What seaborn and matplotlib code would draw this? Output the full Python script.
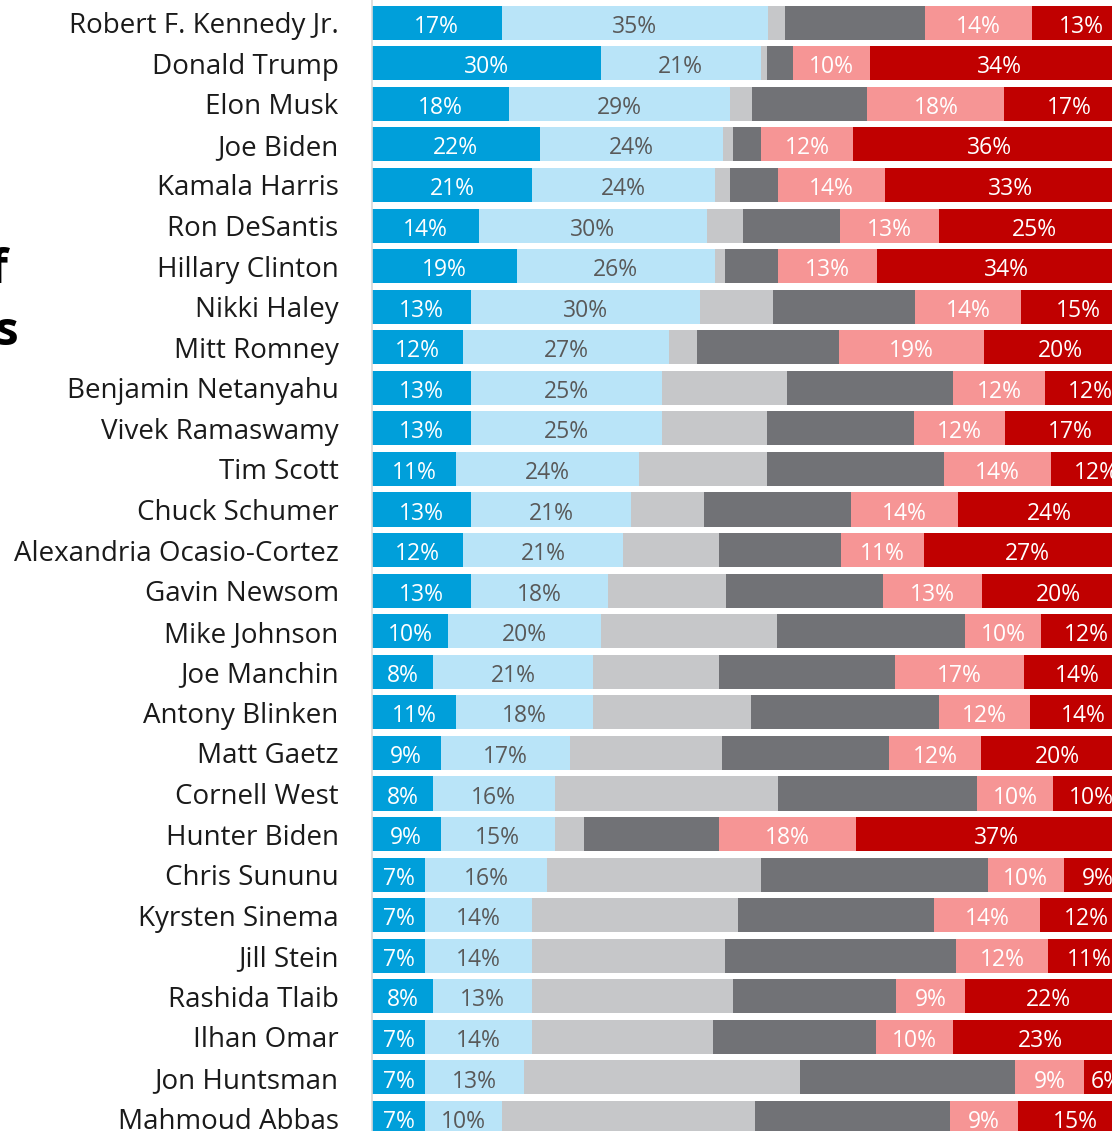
import numpy as np
import pandas as pd
import seaborn as sns
import matplotlib.pyplot as plt

# Names, top to bottom
names = [
    'Robert F. Kennedy Jr.', 'Donald Trump', 'Elon Musk', 'Joe Biden', 'Kamala Harris',
    'Ron DeSantis', 'Hillary Clinton', 'Nikki Haley', 'Mitt Romney', 'Benjamin Netanyahu',
    'Vivek Ramaswamy', 'Tim Scott', 'Chuck Schumer', 'Alexandria Ocasio-Cortez', 'Gavin Newsom',
    'Mike Johnson', 'Joe Manchin', 'Antony Blinken', 'Matt Gaetz', 'Cornell West',
    'Hunter Biden', 'Chris Sununu', 'Kyrsten Sinema', 'Jill Stein', 'Rashida Tlaib',
    'Ilhan Omar', 'Jon Huntsman', 'Mahmoud Abbas',
]

# Segment shares (%); the two gray segments carry no labels and are read off the bar lengths
very_fav = [17, 30, 18, 22, 21, 14, 19, 13, 12, 13, 13, 11, 13, 12, 13, 10, 8, 11, 9, 8, 9, 7, 7, 7, 8, 7, 7, 7]
some_fav = [35, 21, 29, 24, 24, 30, 26, 30, 27, 25, 25, 24, 21, 21, 18, 20, 21, 18, 17, 16, 15, 16, 14, 14, 13, 14, 13, 10]
never_heard = [2.2, 0.9, 2.9, 1.4, 2.0, 4.7, 1.3, 9.6, 3.7, 16.5, 13.8, 16.9, 9.6, 12.5, 15.4,
               23.1, 16.5, 20.7, 19.9, 29.3, 3.8, 28.1, 27.0, 25.3, 26.4, 23.8, 36.2, 33.3]
neutral = [18.4, 3.4, 15.1, 3.7, 6.3, 12.7, 7.0, 18.6, 18.6, 21.8, 19.3, 23.2, 19.3, 16.0, 20.7,
           24.7, 23.1, 24.7, 22.0, 26.1, 17.7, 29.7, 25.7, 30.4, 21.4, 21.4, 28.2, 25.5]
some_unfav = [14, 10, 18, 12, 14, 13, 13, 14, 19, 12, 12, 14, 14, 11, 13, 10, 17, 12, 12, 10, 18, 10, 14, 12, 9, 10, 9, 9]
very_unfav = [13, 34, 17, 36, 33, 25, 34, 15, 20, 12, 17, 12, 24, 27, 20, 12, 14, 14, 20, 10, 37, 9, 12, 11, 22, 23, 6, 15]

segments = [
    ('very_fav', very_fav, '#009FDA', 'white', True),
    ('some_fav', some_fav, '#B9E4F8', '#595959', True),
    ('never_heard', never_heard, '#C6C7C9', None, False),
    ('neutral', neutral, '#717276', None, False),
    ('some_unfav', some_unfav, '#F69595', 'white', True),
    ('very_unfav', very_unfav, '#C00000', 'white', True),
]

df = pd.DataFrame({'name': names})
for key, vals, _, _, _ in segments:
    df[key] = vals
keys = [s[0] for s in segments]
cum = df[keys].cumsum(axis=1)

sns.set_style('white')
plt.rcParams['font.family'] = ['Open Sans', 'DejaVu Sans']

fig = plt.figure(figsize=(11.12, 11.31), dpi=100)
ax = fig.add_axes([372 / 1112, 0, 740 / 1112, 1])

# stacked bars: draw cumulative totals widest first, narrower on top
for key, vals, color, _, _ in reversed(segments):
    sns.barplot(x=cum[key], y=df['name'], orient='h', color=color,
                saturation=1, width=0.84, ax=ax, linewidth=0)

# value labels in the middle of each segment
for i in range(len(names)):
    for key, vals, color, tcolor, show in segments:
        if not show:
            continue
        mid = cum.loc[i, key] - vals[i] / 2
        ax.text(mid, i + 0.1, f'{vals[i]}%', ha='center', va='center',
                color=tcolor, fontsize=16.5)

ax.set_xlim(0, 740 / 7.62)
ax.set_ylim(27.32, -0.56)
ax.set_xlabel('')
ax.set_ylabel('')
ax.set_xticks([])
ax.tick_params(axis='y', length=0, pad=24, labelsize=20, labelcolor='#1A1A1A')
for side in ['top', 'right', 'bottom']:
    ax.spines[side].set_visible(False)
ax.spines['left'].set_color('#D9D9D9')
ax.spines['left'].set_linewidth(1.2)

# title block sits to the left, mostly outside the crop
fig.text(8 / 1112, 1 - 283 / 1131, 'Favorability of', ha='right', va='baseline',
         fontsize=34, fontweight='bold', color='black')
fig.text(19 / 1112, 1 - 345 / 1131, 'Public Figures', ha='right', va='baseline',
         fontsize=34, fontweight='bold', color='black')

fig.savefig('out.png', dpi=100)
